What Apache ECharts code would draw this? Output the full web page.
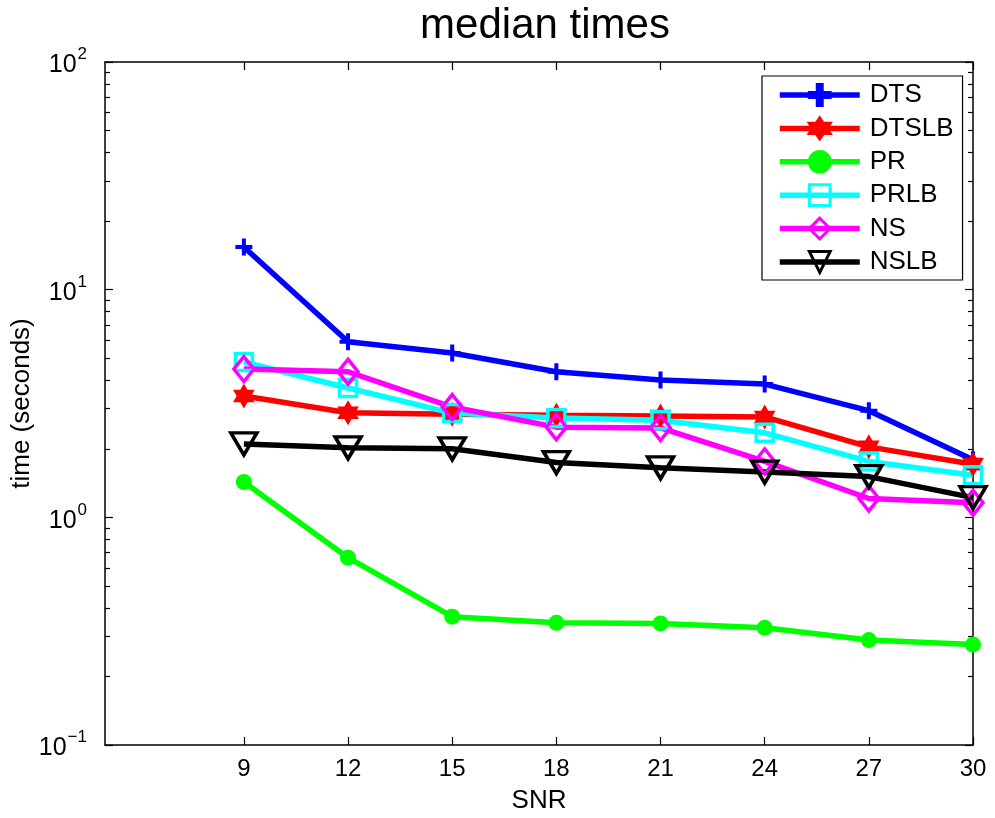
<!DOCTYPE html>
<html>
<head>
<meta charset="utf-8">
<script src="https://cdn.jsdelivr.net/npm/echarts@6/dist/echarts.min.js"></script>
<style>html,body{margin:0;padding:0;background:#fff}#c{width:995px;height:818px}</style>
</head>
<body>
<div id="c"></div>
<script>
const snr = [9, 12, 15, 18, 21, 24, 27, 30];
const xTicks = [9, 12, 15, 18, 21, 24, 27, 30];
const yMajorTicks = [0.1, 1, 10, 100];
const yMinorTicks = [0.2,0.3,0.4,0.5,0.6,0.7,0.8,0.9,2,3,4,5,6,7,8,9,20,30,40,50,60,70,80,90];
const seriesNames = ['DTS', 'DTSLB', 'PR', 'PRLB', 'NS', 'NSLB'];
const dts   = [15.4, 5.91, 5.27, 4.36, 4.01, 3.85, 2.94, 1.79];
const dtslb = [3.41, 2.88, 2.84, 2.81, 2.79, 2.76, 2.04, 1.71];
const pr    = [1.43, 0.665, 0.366, 0.344, 0.342, 0.327, 0.289, 0.276];
const prlb  = [4.81, 3.70, 2.87, 2.73, 2.67, 2.35, 1.76, 1.53];
const ns    = [4.48, 4.36, 3.05, 2.49, 2.47, 1.76, 1.21, 1.16];
const nslb  = [2.10, 2.02, 2.00, 1.74, 1.65, 1.58, 1.51, 1.22];

const FONT = 'Liberation Sans, Arial, sans-serif';
const plusPath = 'path://M-1.9,-8 L1.9,-8 L1.9,-1.9 L8,-1.9 L8,1.9 L1.9,1.9 L1.9,8 L-1.9,8 L-1.9,1.9 L-8,1.9 L-8,-1.9 L-1.9,-1.9 Z';
const hexPath = 'path://M0,-10 L8.66,5 L-8.66,5 Z M0,10 L-8.66,-5 L8.66,-5 Z';

function pairs(arr){ return snr.map((x,i)=>[x, arr[i]]); }

function mk(name, data, color, symbol, size, hollow, rotate){
  return {
    name: name, type: 'line', data: pairs(data),
    xAxisIndex: 0, yAxisIndex: 0,
    symbol: symbol, symbolSize: size, symbolKeepAspect: true,
    symbolRotate: rotate || 0,
    showAllSymbol: true,
    lineStyle: {color: color, width: 5.5},
    itemStyle: hollow ? {color: 'rgba(255,255,255,0)', borderColor: color, borderWidth: 3.5}
                      : {color: color, borderColor: color, borderWidth: 0},
    emphasis: {disabled: true},
    animation: false
  };
}

const supMap = {'-1':'\u22121','0':'0','1':'1','2':'2'};
const chart = echarts.init(document.getElementById('c'), null, {renderer: 'canvas'});
const tickCommon = {show: true, inside: true, lineStyle: {color: '#000', width: 1.2}};
chart.setOption({
  backgroundColor: '#fff',
  animation: false,
  title: {
    text: 'median times', left: 540, top: 0, textAlign: 'center',
    textStyle: {fontFamily: FONT, fontSize: 42, fontWeight: 'normal', color: '#000'}
  },
  legend: {
    data: seriesNames,
    left: 762, top: 76, orient: 'vertical',
    itemWidth: 80, itemHeight: 26, itemGap: 7.4,
    padding: [6, 9, 5, 15],
    borderColor: '#000', borderWidth: 1.2, backgroundColor: '#fff',
    lineStyle: {width: 5.5},
    itemStyle: {borderWidth: 3},
    textStyle: {fontFamily: FONT, fontSize: 26, lineHeight: 26, color: '#000', padding: [0,0,0,5]},
    selectedMode: false
  },
  grid: {left: 105, right: 22, top: 62, bottom: 73, containLabel: false, outerBoundsMode: 'none'},
  xAxis: [
    {
      type: 'value', min: 5, max: 30, position: 'bottom',
      name: 'SNR', nameLocation: 'middle', nameGap: 43, nameMoveOverlap: false,
      nameTextStyle: {fontFamily: FONT, fontSize: 26, color: '#000'},
      axisLine: {show: true, onZero: false, lineStyle: {color: '#000', width: 1.5}},
      axisTick: Object.assign({}, tickCommon, {length: 8, customValues: xTicks}),
      axisLabel: {show: true, customValues: xTicks, fontFamily: FONT, fontSize: 24, color: '#000', margin: 12},
      splitLine: {show: false}
    },
    {
      type: 'value', min: 5, max: 30, position: 'top',
      axisLine: {show: true, onZero: false, lineStyle: {color: '#000', width: 1.5}},
      axisTick: Object.assign({}, tickCommon, {length: 8, customValues: xTicks}),
      axisLabel: {show: false},
      splitLine: {show: false}
    }
  ],
  yAxis: [
    {
      type: 'log', logBase: 10, min: 0.1, max: 100, position: 'left',
      name: 'time (seconds)', nameLocation: 'middle', nameGap: 70, nameRotate: 90, nameMoveOverlap: false,
      nameTextStyle: {fontFamily: FONT, fontSize: 26, color: '#000'},
      axisLine: {show: true, onZero: false, lineStyle: {color: '#000', width: 1.5}},
      axisTick: Object.assign({}, tickCommon, {length: 8, customValues: yMajorTicks}),
      axisLabel: {
        show: true, customValues: yMajorTicks, margin: 18,
        fontFamily: FONT, fontSize: 24, color: '#000',
        formatter: function(v){
          const e = Math.round(Math.log10(v));
          return '{b|10}{s|' + supMap[String(e)] + '}';
        },
        rich: {
          b: {fontFamily: FONT, fontSize: 25, color: '#000', verticalAlign: 'bottom'},
          s: {fontFamily: FONT, fontSize: 17, color: '#000', verticalAlign: 'top', padding: [0,0,15,1]}
        }
      },
      splitLine: {show: false}
    },
    {
      type: 'log', logBase: 10, min: 0.1, max: 100, position: 'left',
      axisLine: {show: false},
      axisTick: Object.assign({}, tickCommon, {length: 5, customValues: yMinorTicks}),
      axisLabel: {show: false}, splitLine: {show: false}
    },
    {
      type: 'log', logBase: 10, min: 0.1, max: 100, position: 'right',
      axisLine: {show: true, onZero: false, lineStyle: {color: '#000', width: 1.5}},
      axisTick: Object.assign({}, tickCommon, {length: 8, customValues: yMajorTicks}),
      axisLabel: {show: false}, splitLine: {show: false}
    },
    {
      type: 'log', logBase: 10, min: 0.1, max: 100, position: 'right',
      axisLine: {show: false},
      axisTick: Object.assign({}, tickCommon, {length: 5, customValues: yMinorTicks}),
      axisLabel: {show: false}, splitLine: {show: false}
    }
  ],
  series: [
    mk('DTS', dts, '#0000ff', plusPath, 17, false),
    mk('DTSLB', dtslb, '#ff0000', hexPath, 25, false),
    mk('PR', pr, '#00ff00', 'circle', 16, false),
    mk('PRLB', prlb, '#00ffff', 'rect', 17, true),
    mk('NS', ns, '#ff00ff', 'diamond', [20, 25], true),
    mk('NSLB', nslb, '#000000', 'triangle', [26, 22], true, 180)
  ]
});
</script>
</body>
</html>
